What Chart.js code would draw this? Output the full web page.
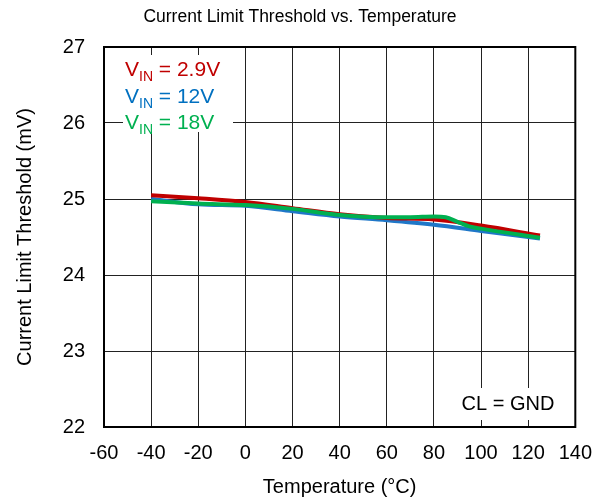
<!DOCTYPE html>
<html><head><meta charset="utf-8">
<script src="https://cdn.jsdelivr.net/npm/chart.js@4"></script>
<style>html,body{margin:0;padding:0;background:#fff}#wrap{width:606px;height:504px}</style>
</head><body><div id="wrap"><canvas id="c" width="606" height="504"></canvas></div>
<script>
// ---- data ----
const tempsRed   = [-40, -20, 0, 20, 40, 60, 80, 100, 125];
const vin29      = [25.05, 25.01, 24.96, 24.88, 24.80, 24.75, 24.73, 24.65, 24.52];
const tempsBlue  = [-40, -20, 0, 20, 40, 60, 80, 100, 125];
const vin12      = [25.00, 24.93, 24.91, 24.84, 24.77, 24.72, 24.66, 24.58, 24.48];
const tempsGreen = [-40, -20, 0, 20, 40, 60, 70, 80, 85, 90, 95, 100, 125];
const vin18      = [24.97, 24.94, 24.92, 24.87, 24.79, 24.76, 24.76, 24.77, 24.76, 24.70, 24.64, 24.61, 24.49];
const xTicks = [-60, -40, -20, 0, 20, 40, 60, 80, 100, 120, 140];
const yTicks = [22, 23, 24, 25, 26, 27];
const legendItems = [
  {label: '2.9V', color: '#C00000'},
  {label: '12V',  color: '#0070C0'},
  {label: '18V',  color: '#00B050'}
];
const titleText = 'Current Limit Threshold vs. Temperature';
const noteText = 'CL = GND';

const FONT = '"Liberation Sans", Arial, sans-serif';
const pts = (xs, ys) => xs.map((x, i) => ({x, y: ys[i]}));

const decor = {
  id: 'decor',
  afterDatasetsDraw(chart) {
    const {ctx, chartArea: a} = chart;
    ctx.save();
    // white backgrounds behind annotations
    ctx.fillStyle = '#fff';
    ctx.fillRect(a.left + 19, a.top + 8, 110, 77);
    ctx.fillRect(a.left + 346, a.bottom - 39, 110, 32);
    // frame
    ctx.strokeStyle = '#000';
    ctx.lineWidth = 2;
    ctx.strokeRect(a.left, a.top, a.right - a.left, a.bottom - a.top);
    // legend
    ctx.textBaseline = 'alphabetic';
    ctx.textAlign = 'left';
    legendItems.forEach((it, i) => {
      const by = a.top + 29 + i * 26.6;
      let x = a.left + 21;
      ctx.fillStyle = it.color;
      ctx.font = '21px ' + FONT;
      ctx.fillText('V', x, by);
      x += ctx.measureText('V').width;
      ctx.font = '14px ' + FONT;
      ctx.fillText('IN', x, by + 5);
      x += ctx.measureText('IN').width;
      ctx.font = '21px ' + FONT;
      ctx.fillText(' = ' + it.label, x, by);
    });
    // note
    ctx.fillStyle = '#000';
    ctx.font = '20px ' + FONT;
    ctx.textAlign = 'center';
    ctx.textBaseline = 'middle';
    ctx.fillText(noteText, a.left + 404, a.bottom - 23);
    // title
    ctx.font = '17.5px ' + FONT;
    ctx.fillText(titleText, 300, 17);
    ctx.restore();
  }
};

new Chart(document.getElementById('c'), {
  type: 'line',
  data: {
    datasets: [
      {label: 'VIN = 18V', data: pts(tempsGreen, vin18), borderColor: '#00B050', order: 1},
      {label: 'VIN = 2.9V', data: pts(tempsRed, vin29), borderColor: '#C00000', order: 2},
      {label: 'VIN = 12V', data: pts(tempsBlue, vin12), borderColor: '#1F77C8', order: 3}
    ].map(d => Object.assign(d, {borderWidth: 4, pointRadius: 0, fill: false, cubicInterpolationMode: 'monotone'}))
  },
  options: {
    responsive: false,
    animation: false,
    devicePixelRatio: 1,
    layout: {padding: {top: 47, right: 30, left: 0, bottom: 0}},
    plugins: {legend: {display: false}, tooltip: {enabled: false}, title: {display: false}},
    scales: {
      x: {
        type: 'linear', min: -60, max: 140,
        afterBuildTicks: s => { s.ticks = xTicks.map(v => ({value: v})); },
        afterFit: s => { s.height = 77; },
        grid: {color: '#222', lineWidth: 1, drawTicks: false},
        border: {display: false},
        ticks: {color: '#000', font: {family: FONT, size: 20}, padding: 14, maxRotation: 0, autoSkip: false},
        title: {display: true, text: 'Temperature (°C)', color: '#000', font: {family: FONT, size: 20}, padding: {top: 0, bottom: 5}}
      },
      y: {
        min: 22, max: 27,
        afterBuildTicks: s => { s.ticks = yTicks.map(v => ({value: v})); },
        afterFit: s => { s.width = 104; },
        grid: {color: '#222', lineWidth: 1, drawTicks: false},
        border: {display: false},
        ticks: {color: '#000', font: {family: FONT, size: 20}, padding: 19},
        title: {display: true, text: 'Current Limit Threshold (mV)', color: '#000', font: {family: FONT, size: 20}, padding: {top: 13, bottom: 0}}
      }
    }
  },
  plugins: [decor]
});
</script>
</body></html>
